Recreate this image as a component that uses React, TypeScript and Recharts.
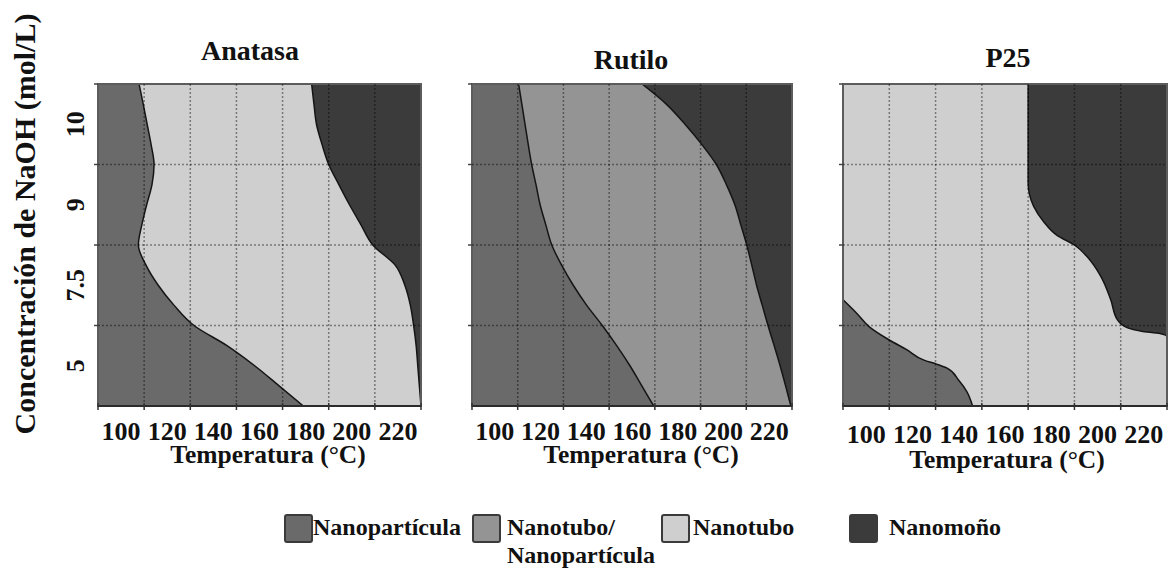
import React from 'react';
import { AreaChart, Area, XAxis, YAxis, ReferenceLine, ReferenceArea } from 'recharts';

// temperature categories (°C), drawn as equal bands 90-230
const temperatures = [100, 120, 140, 160, 180, 200, 220];
const TEMP_MIN = 90;
const TEMP_MAX = 230;
// NaOH concentration rows (mol/L), bottom to top, each row is one band 0..4
const concentrations = ['5', '7.5', '9', '10'];

const phases = ['Nanopartícula', 'Nanotubo/\nNanopartícula', 'Nanotubo', 'Nanomoño'];
const phaseColors = ['#6a6a6a', '#949494', '#cfcfcf', '#3b3b3b'];

// phase boundaries as [row position (0 bottom .. 4 top), temperature °C]
const anatasaLeft = [
    [0, 179], [0.25, 168.5], [0.5, 157.9], [0.75, 145.9], [1, 131.6], [1.25, 123], [1.5, 116.1],
    [1.75, 110.8], [2, 107.5], [2.25, 109], [2.5, 111.1], [2.75, 113.4], [3, 114.3], [3.25, 113],
    [3.5, 111.3], [3.75, 109.6], [4, 107.8],
];
const anatasaRight = [
    [0, 230], [0.25, 229.3], [0.5, 228.6], [0.75, 227.9], [1, 226.8], [1.25, 225.4], [1.5, 223],
    [1.75, 218.8], [2, 209.1], [2.25, 204], [2.5, 199], [2.75, 194.4], [3, 190], [3.25, 187.1],
    [3.5, 184.7], [3.75, 183.6], [4, 182.6],
];
const rutiloLeft = [
    [0, 169.5], [0.25, 164.3], [0.5, 159.1], [0.75, 153.3], [1, 147], [1.25, 140.2], [1.5, 134.3],
    [1.75, 129.2], [2, 124.9], [2.25, 122.3], [2.5, 119.8], [2.75, 118], [3, 116.1], [3.25, 114.6],
    [3.5, 113.2], [3.75, 111.8], [4, 110.4],
];
const rutiloRight = [
    [0, 229.5], [0.25, 227.2], [0.5, 224.8], [0.75, 222.2], [1, 219.5], [1.25, 217], [1.5, 214.5],
    [1.75, 212.4], [2, 210.2], [2.25, 207.6], [2.5, 205], [2.75, 201.3], [3, 196.9], [3.25, 190.5],
    [3.5, 183.2], [3.75, 175], [4, 164.4],
];
const p25Left = [
    [0, 146], [0.18, 143.5], [0.32, 140], [0.47, 135], [0.52, 130.5], [0.57, 125], [0.7, 117.5],
    [0.82, 110], [0.98, 101.5], [1.15, 96], [1.32, 90],
];
const p25Right = [
    [0, 230], [0.86, 230], [0.9, 227], [0.93, 219], [0.97, 213], [1.07, 208.6], [1.32, 205.7],
    [1.61, 201.4], [1.85, 195.6], [2, 190], [2.12, 182.5], [2.29, 176.7], [2.48, 172.4],
    [2.77, 170], [4, 170],
];

const FONT = "'Liberation Serif', 'Times New Roman', serif";
const PLOT_TOP = 84;
const PLOT_HEIGHT = 322;
const CHART_HEIGHT = 500;
const XAXIS_HEIGHT = 80;
const RIGHT_PAD = 10;
const LINE = '#151515';
const GRID = 'rgba(0,0,0,0.42)';

const buildRows = (left: number[][], right: number[][]) => {
    const ys = Array.from(new Set([...left, ...right].map((p) => p[0]))).sort((a, b) => a - b);
    return ys.map((y) => ({
        y,
        left: left.find((p) => p[0] === y)?.[1] ?? null,
        right: right.find((p) => p[0] === y)?.[1] ?? null,
    }));
};

const panels = [
    { title: 'Anatasa', left: anatasaLeft, right: anatasaRight, middle: 2, plotLeft: 98, plotWidth: 323, axisWidth: 98,
      titleX: 250, titleY: 60, tickDy: 34, axisTitleX: 268, axisTitleY: 463, yLabels: true },
    { title: 'Rutilo', left: rutiloLeft, right: rutiloRight, middle: 1, plotLeft: 472, plotWidth: 320, axisWidth: 20,
      titleX: 631, titleY: 69, tickDy: 34, axisTitleX: 641, axisTitleY: 463, yLabels: false },
    { title: 'P25', left: p25Left, right: p25Right, middle: 2, plotLeft: 843, plotWidth: 324, axisWidth: 20,
      titleX: 1008, titleY: 67, tickDy: 37, axisTitleX: 1007, axisTitleY: 468, yLabels: false },
];

const legendPos = [
    { box: 285, text: 313 },
    { box: 473, text: 507 },
    { box: 662, text: 693 },
    { box: 850, text: 889 },
];

const makeXTick = (halfBand: number, dy: number) => (props: any) => {
    const { x, y, payload, index } = props;
    return (
        <g>
            <line x1={x - halfBand} x2={x - halfBand} y1={y - 3} y2={y + 4} stroke="#333" strokeWidth={1.5} />
            {index === temperatures.length - 1 && (
                <line x1={x + halfBand} x2={x + halfBand} y1={y - 3} y2={y + 4} stroke="#333" strokeWidth={1.5} />
            )}
            <text x={x} y={y + dy} textAnchor="middle" fontFamily={FONT} fontWeight="bold" fontSize={26} fill="#111">
                {payload.value}
            </text>
        </g>
    );
};

const makeYTick = (halfRow: number, showLabel: boolean) => (props: any) => {
    const { x, y, payload } = props;
    const label = concentrations[Math.floor(payload.value)];
    return (
        <g>
            <line x1={x - 4} x2={x} y1={y - halfRow} y2={y - halfRow} stroke="#444" strokeWidth={1.5} />
            {showLabel && (
                <text transform={`translate(${x - 22.5},${y}) rotate(-90)`} textAnchor="middle" dy="0.34em"
                      fontFamily={FONT} fontWeight="bold" fontSize={26} fill="#111">
                    {label}
                </text>
            )}
        </g>
    );
};

const Panel = ({ p }: { p: (typeof panels)[number] }) => {
    const rows = buildRows(p.left, p.right);
    const halfBand = p.plotWidth / temperatures.length / 2;
    const halfRow = PLOT_HEIGHT / concentrations.length / 2;
    const gridTemps = temperatures.slice(0, -1).map((t) => t + 10);
    const gridRows = concentrations.slice(1).map((_, i) => i + 1);
    return (
        <div style={{ position: 'absolute', left: p.plotLeft - p.axisWidth, top: 0 }}>
            <AreaChart
                width={p.axisWidth + p.plotWidth + RIGHT_PAD}
                height={CHART_HEIGHT}
                data={rows}
                layout="vertical"
                margin={{ top: PLOT_TOP, right: RIGHT_PAD, left: 0, bottom: CHART_HEIGHT - PLOT_TOP - PLOT_HEIGHT - XAXIS_HEIGHT }}
            >
                <XAxis
                    type="number"
                    domain={[TEMP_MIN, TEMP_MAX]}
                    ticks={temperatures}
                    interval={0}
                    height={XAXIS_HEIGHT}
                    tickSize={0}
                    tickMargin={0}
                    tickLine={false}
                    axisLine={{ stroke: '#2b2b2b', strokeWidth: 2 }}
                    tick={makeXTick(halfBand, p.tickDy)}
                    allowDataOverflow
                />
                <YAxis
                    type="number"
                    dataKey="y"
                    reversed
                    domain={[0, concentrations.length]}
                    ticks={concentrations.map((_, i) => i + 0.5)}
                    interval={0}
                    width={p.axisWidth}
                    tickSize={0}
                    tickMargin={0}
                    tickLine={false}
                    axisLine={false}
                    tick={makeYTick(halfRow, p.yLabels)}
                    allowDataOverflow
                />
                <Area
                    name={phases[3]}
                    dataKey={() => TEMP_MAX}
                    fill={phaseColors[3]}
                    fillOpacity={1}
                    stroke="none"
                    isAnimationActive={false}
                />
                <Area
                    name={phases[p.middle]}
                    dataKey="right"
                    type="monotone"
                    connectNulls
                    fill={phaseColors[p.middle]}
                    fillOpacity={1}
                    stroke={LINE}
                    strokeWidth={1.5}
                    isAnimationActive={false}
                />
                <Area
                    name={phases[0]}
                    dataKey="left"
                    type="monotone"
                    connectNulls
                    fill={phaseColors[0]}
                    fillOpacity={1}
                    stroke={LINE}
                    strokeWidth={1.5}
                    isAnimationActive={false}
                />
                {gridTemps.map((t) => (
                    <ReferenceLine key={`gx-${t}`} x={t} stroke={GRID} strokeWidth={1.5} strokeDasharray="2 2" />
                ))}
                {gridRows.map((r) => (
                    <ReferenceLine key={`gy-${r}`} y={r} stroke={GRID} strokeWidth={1.5} strokeDasharray="2 2" />
                ))}
                <ReferenceArea
                    x1={TEMP_MIN}
                    x2={TEMP_MAX}
                    y1={0}
                    y2={concentrations.length}
                    fill="none"
                    stroke="#5c5c5c"
                    strokeWidth={2}
                />
            </AreaChart>
        </div>
    );
};

export default function App() {
    return (
        <div style={{ position: 'absolute', left: 0, top: 0, width: 1168, height: 568, overflow: 'hidden', background: '#fff' }}>
            {panels.map((p) => (
                <Panel key={p.title} p={p} />
            ))}
            <svg width={1168} height={568} style={{ position: 'absolute', left: 0, top: 0, pointerEvents: 'none' }}>
                <g fontFamily={FONT} fontWeight="bold" fill="#111">
                    {panels.map((p) => (
                        <g key={p.title}>
                            <text x={p.titleX} y={p.titleY} textAnchor="middle" fontSize={28}>{p.title}</text>
                            <text x={p.axisTitleX} y={p.axisTitleY} textAnchor="middle" fontSize={25.5}>Temperatura (°C)</text>
                        </g>
                    ))}
                    <text transform="translate(25,224) rotate(-90)" textAnchor="middle" dy="0.33em" fontSize={30}>
                        Concentración de NaOH (mol/L)
                    </text>
                    {phases.map((name, i) => (
                        <g key={name}>
                            <rect x={legendPos[i].box} y={515} width={27} height={27} rx={2}
                                  fill={phaseColors[i]} stroke="#3a3a3a" strokeWidth={2} />
                            {name.split('\n').map((line, j) => (
                                <text key={line} x={legendPos[i].text} y={535 + j * 28} fontSize={24}>{line}</text>
                            ))}
                        </g>
                    ))}
                </g>
            </svg>
        </div>
    );
}
